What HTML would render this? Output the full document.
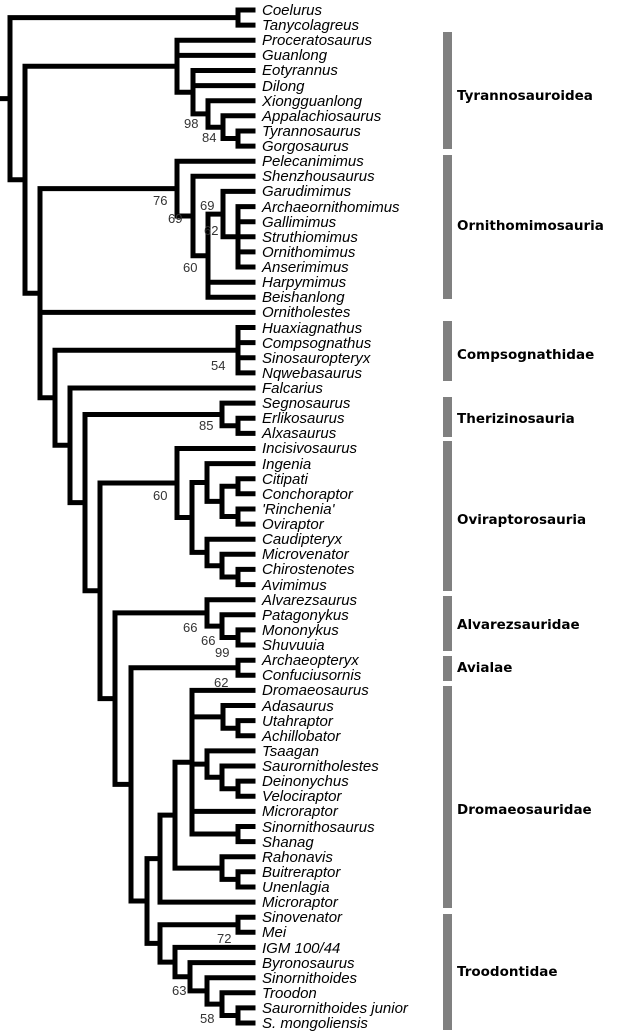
<!DOCTYPE html>
<html><head><meta charset="utf-8"><style>
html,body{margin:0;padding:0;background:#fff;width:620px;height:1036px;overflow:hidden}
svg{display:block}
.t{font-family:"Liberation Sans",Arial,sans-serif;font-style:italic;font-size:15px;fill:#000}
.s{font-family:"Liberation Sans",Arial,sans-serif;font-size:13px;fill:#333}
.g{font-family:"DejaVu Sans","Liberation Sans",sans-serif;font-weight:bold;font-size:13.5px;fill:#000}
</style></head><body>
<svg id="sv" width="620" height="1036" viewBox="0 0 620 1036" xmlns="http://www.w3.org/2000/svg">
<g id="lines" stroke="#000" stroke-width="5" stroke-linecap="square" fill="none"></g>
<g fill="#808080">
<rect x="443" y="32" width="9" height="117"/>
<rect x="443" y="155" width="9" height="144"/>
<rect x="443" y="321" width="9" height="60"/>
<rect x="443" y="397" width="9" height="40"/>
<rect x="443" y="441" width="9" height="150"/>
<rect x="443" y="596" width="9" height="55"/>
<rect x="443" y="656" width="9" height="25"/>
<rect x="443" y="686" width="9" height="222"/>
<rect x="443" y="914" width="9" height="116"/>
</g>
<g class="g">
<text x="457" y="100">Tyrannosauroidea</text>
<text x="457" y="230">Ornithomimosauria</text>
<text x="457" y="359">Compsognathidae</text>
<text x="457" y="423">Therizinosauria</text>
<text x="457" y="524">Oviraptorosauria</text>
<text x="457" y="629">Alvarezsauridae</text>
<text x="457" y="672">Avialae</text>
<text x="457" y="814">Dromaeosauridae</text>
<text x="457" y="976">Troodontidae</text>
</g>
<g class="s">
<text x="184" y="128">98</text><text x="202" y="142">84</text>
<text x="153" y="205">76</text><text x="168" y="223">69</text><text x="200" y="210">69</text>
<text x="204" y="235">62</text><text x="183" y="272">60</text>
<text x="211" y="370">54</text><text x="199" y="430">85</text><text x="153" y="500">60</text>
<text x="183" y="632">66</text><text x="201" y="645">66</text><text x="215" y="657">99</text>
<text x="214" y="687">62</text><text x="217" y="943">72</text><text x="172" y="995">63</text>
<text x="200" y="1023">58</text>
</g>
<g class="t" id="taxa">
<text x="262" y="15">Coelurus</text>
<text x="262" y="30">Tanycolagreus</text>
<text x="262" y="45">Proceratosaurus</text>
<text x="262" y="60">Guanlong</text>
<text x="262" y="75">Eotyrannus</text>
<text x="262" y="91">Dilong</text>
<text x="262" y="106">Xiongguanlong</text>
<text x="262" y="121">Appalachiosaurus</text>
<text x="262" y="136">Tyrannosaurus</text>
<text x="262" y="151">Gorgosaurus</text>
<text x="262" y="166">Pelecanimimus</text>
<text x="262" y="181">Shenzhousaurus</text>
<text x="262" y="196">Garudimimus</text>
<text x="262" y="212">Archaeornithomimus</text>
<text x="262" y="227">Gallimimus</text>
<text x="262" y="242">Struthiomimus</text>
<text x="262" y="257">Ornithomimus</text>
<text x="262" y="272">Anserimimus</text>
<text x="262" y="287">Harpymimus</text>
<text x="262" y="302">Beishanlong</text>
<text x="262" y="317">Ornitholestes</text>
<text x="262" y="333">Huaxiagnathus</text>
<text x="262" y="348">Compsognathus</text>
<text x="262" y="363">Sinosauropteryx</text>
<text x="262" y="378">Nqwebasaurus</text>
<text x="262" y="393">Falcarius</text>
<text x="262" y="408">Segnosaurus</text>
<text x="262" y="423">Erlikosaurus</text>
<text x="262" y="438">Alxasaurus</text>
<text x="262" y="453">Incisivosaurus</text>
<text x="262" y="469">Ingenia</text>
<text x="262" y="484">Citipati</text>
<text x="262" y="499">Conchoraptor</text>
<text x="262" y="514">'Rinchenia'</text>
<text x="262" y="529">Oviraptor</text>
<text x="262" y="544">Caudipteryx</text>
<text x="262" y="559">Microvenator</text>
<text x="262" y="574">Chirostenotes</text>
<text x="262" y="590">Avimimus</text>
<text x="262" y="605">Alvarezsaurus</text>
<text x="262" y="620">Patagonykus</text>
<text x="262" y="635">Mononykus</text>
<text x="262" y="650">Shuvuuia</text>
<text x="262" y="665">Archaeopteryx</text>
<text x="262" y="680">Confuciusornis</text>
<text x="262" y="695">Dromaeosaurus</text>
<text x="262" y="711">Adasaurus</text>
<text x="262" y="726">Utahraptor</text>
<text x="262" y="741">Achillobator</text>
<text x="262" y="756">Tsaagan</text>
<text x="262" y="771">Saurornitholestes</text>
<text x="262" y="786">Deinonychus</text>
<text x="262" y="801">Velociraptor</text>
<text x="262" y="816">Microraptor</text>
<text x="262" y="832">Sinornithosaurus</text>
<text x="262" y="847">Shanag</text>
<text x="262" y="862">Rahonavis</text>
<text x="262" y="877">Buitreraptor</text>
<text x="262" y="892">Unenlagia</text>
<text x="262" y="907">Microraptor</text>
<text x="262" y="922">Sinovenator</text>
<text x="262" y="937">Mei</text>
<text x="262" y="953">IGM 100/44</text>
<text x="262" y="968">Byronosaurus</text>
<text x="262" y="983">Sinornithoides</text>
<text x="262" y="998">Troodon</text>
<text x="262" y="1013">Saurornithoides junior</text>
<text x="262" y="1028">S. mongoliensis</text>
</g>
</svg>
<script>
(function(){
function n(x,c){return {x:x,c:c};}
function ly(i){return 10+i*15.12;}
var tyr=n(177,[2,3,n(193,[4,5,n(208,[6,n(223,[7,n(238,[8,9])])])])]);
var orn=n(177,[10,n(193,[11,n(208,[n(223,[12,n(238,[13,14,15,16,17])]),18,19])])]);
var ovi=n(177,[29,n(192,[n(207,[30,n(222,[n(238,[31,32]),n(238,[33,34])])]),n(207,[35,n(222,[36,n(238,[37,38])])])])]);
var dro=n(160,[n(175,[n(192,[45,n(223,[46,n(238,[47,48])]),n(207,[49,n(222,[50,n(238,[51,52])])]),53,n(238,[54,55])]),n(222,[56,n(238,[57,58])])]),59]);
var tro=n(160,[n(238,[60,61]),n(175,[62,n(190,[63,n(207,[64,n(222,[65,n(238,[66,67])])])])])]);
var I=n(147,[dro,tro]);
var H=n(131,[n(238,[43,44]),I]);
var G=n(115,[n(207,[39,n(222,[40,n(238,[41,42])])]),H]);
var F=n(100,[ovi,G]);
var E=n(85,[n(222,[26,n(238,[27,28])]),F]);
var D=n(70,[25,E]);
var C=n(55,[n(238,[21,22,23,24]),D]);
var B=n(40,[orn,20,C]);
var A=n(25,[tyr,B]);
var R=n(10,[n(238,[0,1]),A]);
var d=[];
function yOf(k){return typeof k==="number"?ly(k):k.y;}
function lay(k){if(typeof k==="number")return;k.c.forEach(lay);k.y=(yOf(k.c[0])+yOf(k.c[k.c.length-1]))/2;}
lay(R);
function L(x1,y1,x2,y2){d.push("M"+x1+" "+y1.toFixed(1)+"L"+x2+" "+y2.toFixed(1));}
function draw(k){
 if(typeof k==="number")return;
 L(k.x,yOf(k.c[0]),k.x,yOf(k.c[k.c.length-1]));
 k.c.forEach(function(c){
  var y=yOf(c);var x2=typeof c==="number"?253:c.x;
  L(k.x,y,x2,y);draw(c);
 });
}
draw(R);
L(0,R.y,R.x,R.y);
var p=document.createElementNS("http://www.w3.org/2000/svg","path");
p.setAttribute("d",d.join(""));
document.getElementById("lines").appendChild(p);
})();
</script>
</body></html>
